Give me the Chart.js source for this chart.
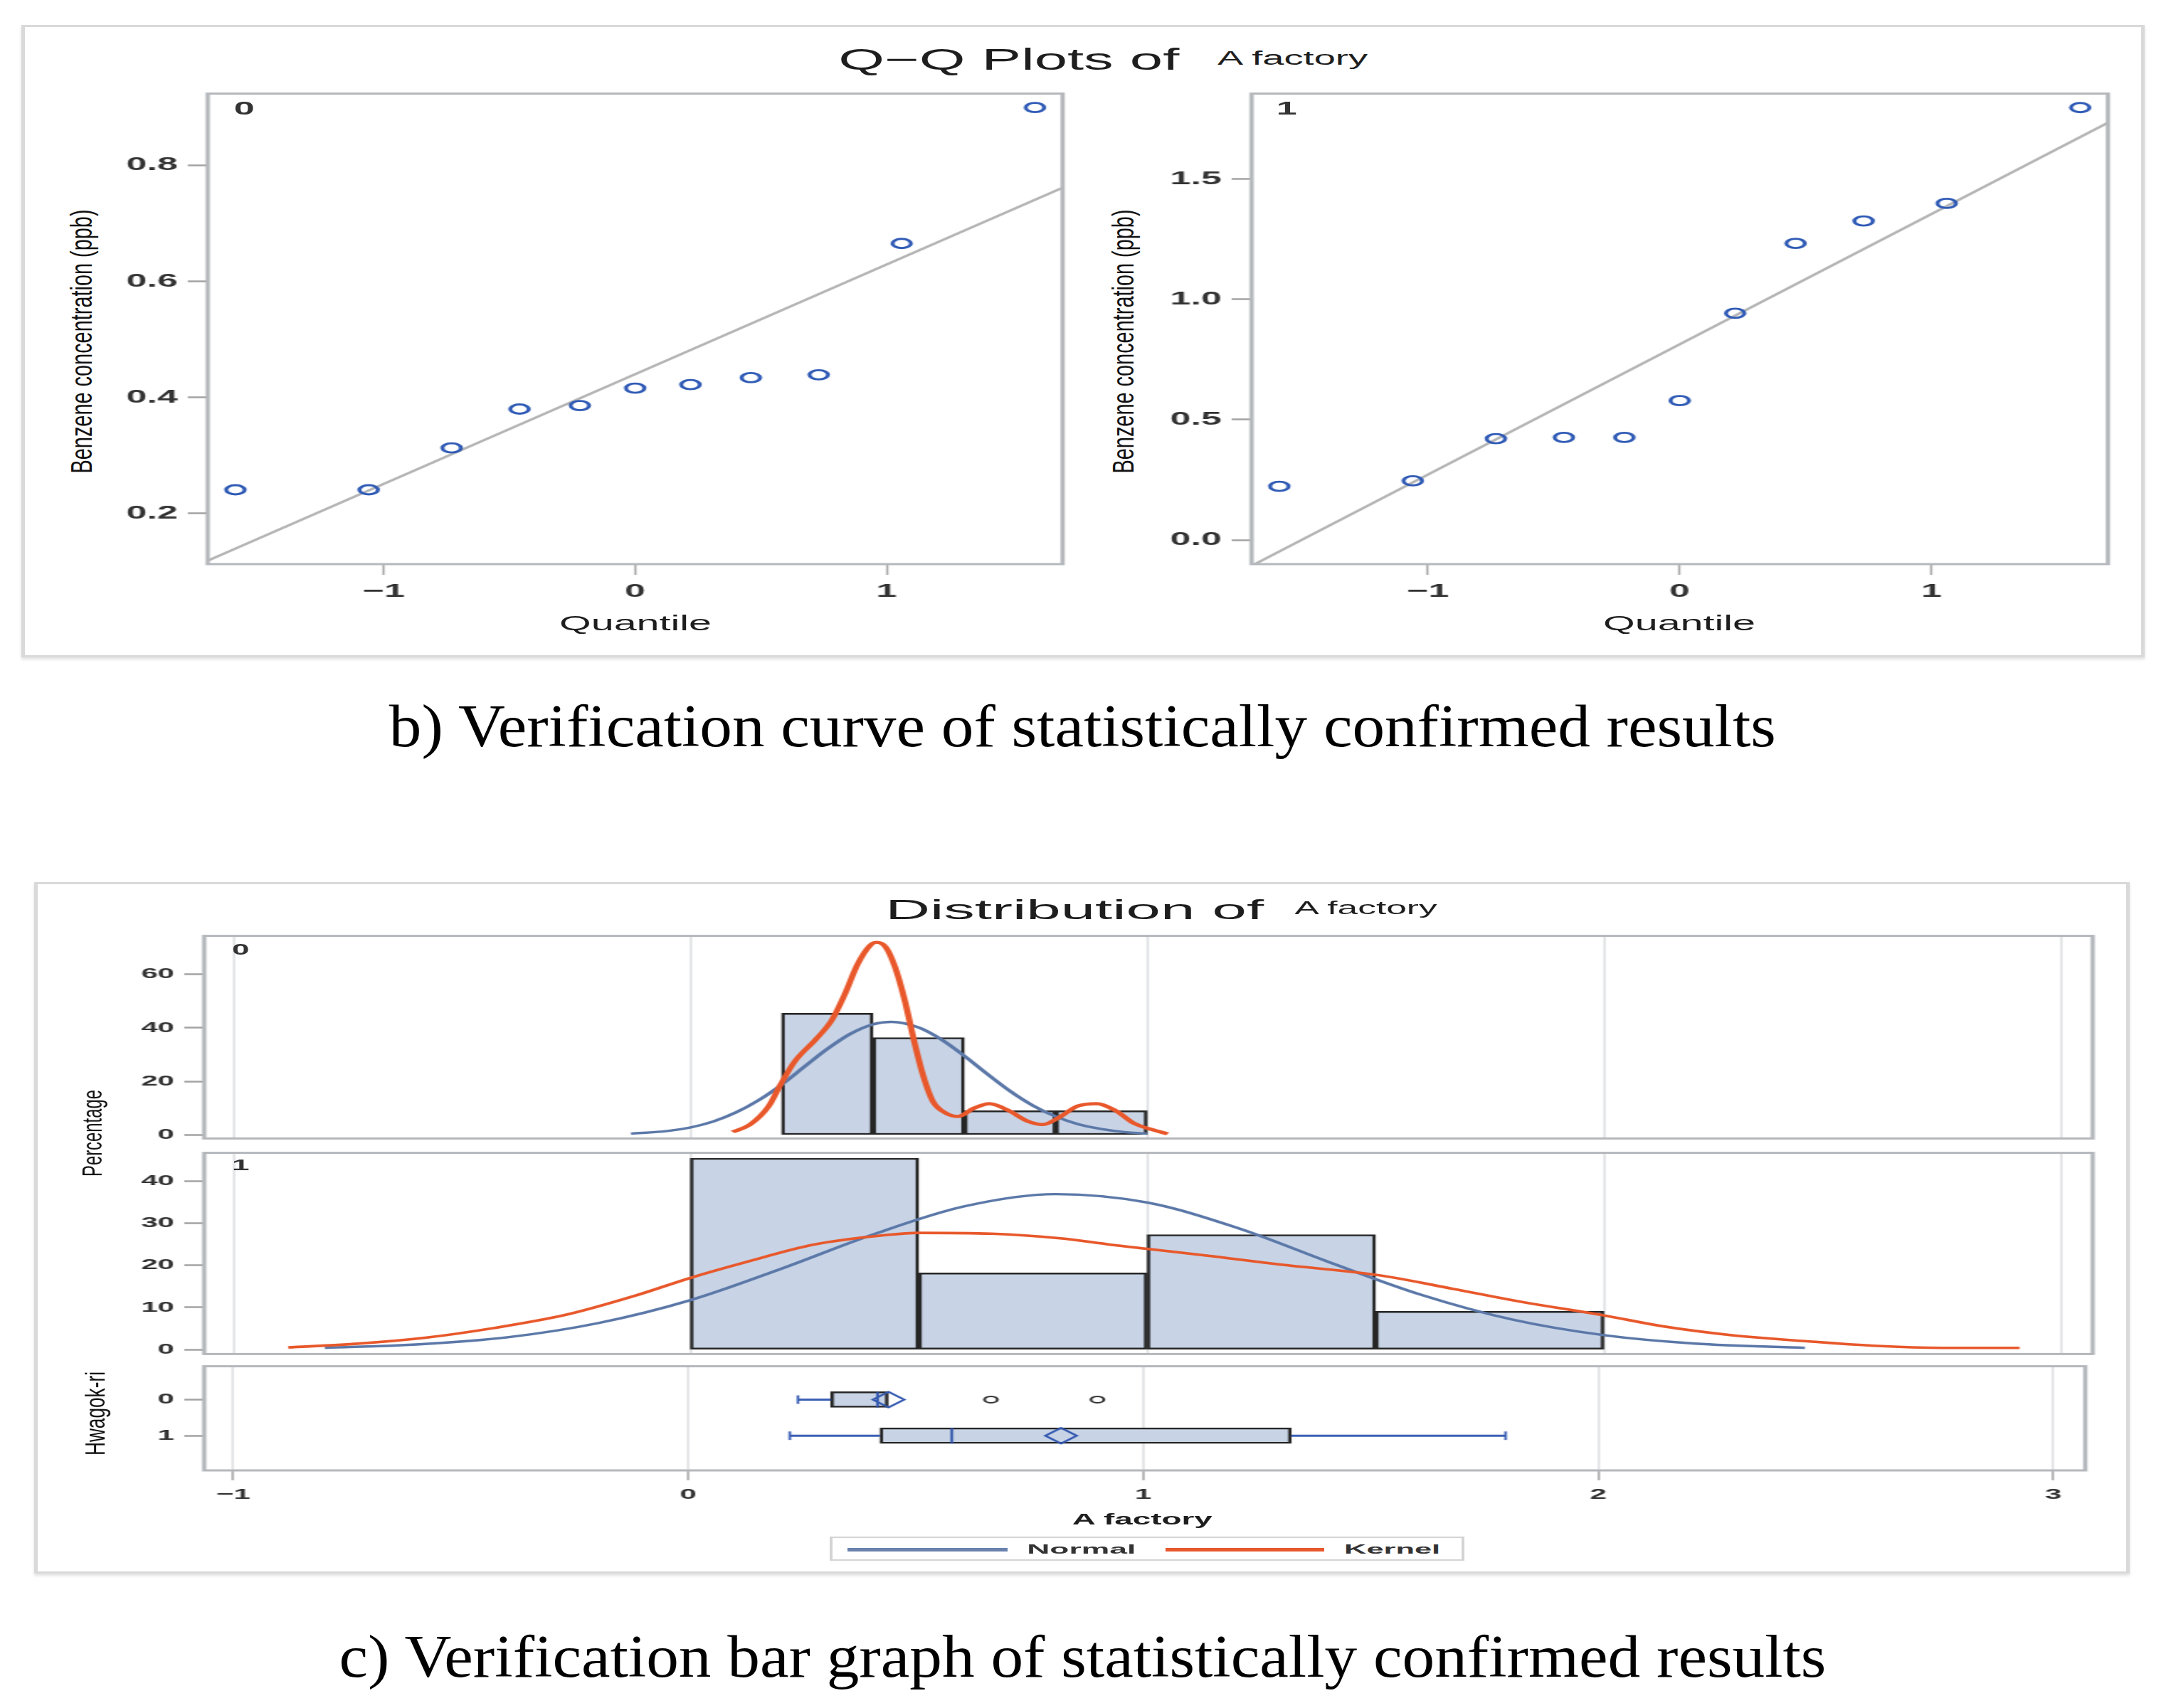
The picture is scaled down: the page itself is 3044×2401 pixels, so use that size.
<!DOCTYPE html>
<html>
<head>
<meta charset="utf-8">
<title>Q-Q plots and distribution of A factory</title>
<script src="https://cdn.jsdelivr.net/npm/chart.js@4.4.1/dist/chart.umd.min.js"></script>
<style>
  html, body { margin: 0; padding: 0; background: #fff; }
  body { position: relative; width: 3044px; height: 2401px; overflow: hidden;
         font-family: 'Liberation Sans', Arial, sans-serif; color: #222; }
  .frame { position: absolute; box-sizing: border-box; border: solid #d9d9d9;
           border-width: 3px 5px; box-shadow: 0 3px 4px rgba(0,0,0,0.12); }
  .t { position: absolute; white-space: nowrap; line-height: 1; }
  canvas { position: absolute; transform-origin: 0 0; }
  .legend { position: absolute; box-sizing: border-box; border: solid #d4d4d4; border-width: 2px 4px; }
  .key { position: absolute; height: 5px; }
</style>
</head>
<body>
<div class="frame" style="left:30px;top:35px;width:2984px;height:889px"></div>
<div class="frame" style="left:48px;top:1240px;width:2945px;height:972px"></div>
<div class="legend" style="left:1166px;top:2160px;width:892px;height:34px"></div>
<div class="key" style="left:1191px;top:2176px;width:225px;background:#6a82ad"></div>
<div class="key" style="left:1638px;top:2176px;width:223px;background:#e8582b"></div>

<script>
// ---- Q-Q plot data (normal quantiles vs benzene concentration, ppb)
const qqQuantiles = [-1.59, -1.06, -0.73, -0.46, -0.22, 0, 0.22, 0.46, 0.73, 1.06, 1.59];
const qqGroup0 = [0.241, 0.241, 0.313, 0.380, 0.386, 0.416, 0.422, 0.434, 0.439, 0.665, 0.899];
const qqGroup1 = [0.223, 0.246, 0.421, 0.426, 0.426, 0.579, 0.942, 1.232, 1.325, 1.398, 1.796];
const qqLineX = [-1.70, 1.70];
const qqLine0 = [0.119, 0.761];
const qqLine1 = [-0.107, 1.733];
const qqTicksX = [-1, 0, 1];
const qqTicksY0 = [0.2, 0.4, 0.6, 0.8];
const qqTicksY1 = [0, 0.5, 1.0, 1.5];

// ---- histogram data (percent per bin, bins given by centre)
const bins0 = [0.3, 0.5, 0.7, 0.9];
const pct0 = [45.45, 36.36, 9.09, 9.09];
const bins1 = [0.25, 0.75, 1.25, 1.75];
const pct1 = [45.45, 18.18, 27.27, 9.09];

const normal0X = [-0.13, -0.05, 0, 0.05, 0.1, 0.15, 0.2, 0.25, 0.3, 0.35, 0.4, 0.44, 0.5, 0.55, 0.6, 0.65, 0.7, 0.75, 0.8, 0.85, 0.9, 0.95, 1.0];
const normal0Y = [0.5, 1.5, 2.8, 5.0, 8.4, 13.0, 18.8, 25.5, 32.1, 37.7, 41.3, 42.2, 40.1, 35.6, 29.5, 22.8, 16.4, 11.0, 6.9, 4.0, 2.2, 1.1, 0.5];
const kernel0X = [0.093, 0.131, 0.172, 0.197, 0.228, 0.276, 0.31, 0.338, 0.366, 0.393, 0.407, 0.428, 0.448, 0.469, 0.49, 0.51, 0.531, 0.559, 0.586, 0.621, 0.655, 0.697, 0.738, 0.772, 0.807, 0.848, 0.89, 0.931, 0.972, 1.007, 1.045];
const kernel0Y = [1.1, 3.9, 10.8, 18.6, 27.3, 35.9, 42.9, 52.4, 63.6, 70.6, 71.9, 70.1, 62.8, 50.6, 35.1, 22.1, 12.6, 8.2, 6.9, 10.0, 11.7, 9.1, 5.2, 3.9, 6.5, 10.8, 11.7, 9.1, 4.3, 2.2, 0.4];

const normal1X = [-0.8, -0.6, -0.4, -0.2, 0, 0.2, 0.4, 0.6, 0.8, 1.0, 1.2, 1.4, 1.6, 1.8, 2.0, 2.2, 2.44];
const normal1Y = [0.4, 1.2, 2.9, 6.3, 11.7, 19.2, 27.3, 34.0, 36.9, 34.9, 28.8, 20.7, 13.0, 7.1, 3.4, 1.4, 0.4];
const kernel1X = [-0.88, -0.74, -0.58, -0.43, -0.27, -0.12, 0, 0.12, 0.27, 0.43, 0.5, 0.66, 0.81, 0.92, 1.0, 1.13, 1.29, 1.51, 1.67, 1.82, 2.0, 2.13, 2.28, 2.44, 2.59, 2.74, 2.91];
const kernel1Y = [0.5, 1.3, 2.8, 5.1, 8.3, 12.8, 17.0, 20.7, 24.9, 27.2, 27.7, 27.5, 26.4, 24.9, 23.9, 22.3, 20.2, 17.6, 14.4, 11.3, 8.1, 5.5, 3.4, 2.0, 0.9, 0.4, 0.4];

const distTicksX = [-1, 0, 1, 2, 3];
const pctTicks0 = [0, 20, 40, 60];
const pctTicks1 = [0, 10, 20, 30, 40];

// ---- box plot data (Hwagok-ri 0 / 1)
const boxRows = [0, 1];
const boxQ1 = [0.313, 0.421];
const boxMedian = [0.416, 0.579];
const boxQ3 = [0.439, 1.325];
const boxMean = [0.440, 0.819];
const whiskerLow = [0.241, 0.223];
const whiskerHigh = [0.439, 1.796];
const outliers = [[0.665, 0.899], []];

// ---- look
const S = 2;   // the whole graphic is stretched 2x horizontally
const barFill = '#c8d4e6';
const barEdge = '#262626';
const normalColor = '#5b78a8';
const kernelColor = '#e8582b';
const boxBlue = '#3a5fb4';
const tickColor = '#a3a3a3';
const family = "'Liberation Sans', Arial, sans-serif";
const minus = v => String(v).replace('-', '\u2212');

const framePlugin = {
  id: 'frame',
  afterDraw(chart) {
    const { ctx, chartArea: a } = chart;
    ctx.save();
    ctx.strokeStyle = '#b4b8bc';
    ctx.lineWidth = 3;
    ctx.strokeRect(a.left, a.top, a.right - a.left, a.bottom - a.top);
    ctx.restore();
  }
};

function fixedTicks(vals) {
  return s => { s.ticks = vals.map(value => ({ value })); };
}

function plot(area, opt, datasets, scales) {
  const aw = Math.round((area.r - area.l) / S);
  const ah = area.b - area.t;
  const w = opt.yw + aw + 8;
  const h = opt.pt + ah + opt.xh + opt.pb;
  const cv = document.createElement('canvas');
  cv.width = w;
  cv.height = h;
  cv.style.left = (area.l - opt.yw * S) + 'px';
  cv.style.top = (area.t - opt.pt) + 'px';
  cv.style.width = w + 'px';
  cv.style.height = h + 'px';
  cv.style.transform = `scaleX(${S})`;
  document.body.appendChild(cv);
  scales.x.afterFit = s => { s.height = opt.xh; };
  scales.y.afterFit = s => { s.width = opt.yw; };
  return new Chart(cv, {
    type: 'scatter',
    data: { datasets },
    options: {
      responsive: false,
      animation: false,
      devicePixelRatio: 1,
      layout: { padding: { left: 0, right: 8, top: opt.pt, bottom: opt.pb } },
      plugins: { legend: { display: false }, tooltip: { enabled: false } },
      scales
    },
    plugins: [framePlugin]
  });
}

function yAxis(min, max, ticks, size, fmt, extra) {
  return Object.assign({
    type: 'linear', min, max, offset: false,
    afterBuildTicks: fixedTicks(ticks),
    ticks: { font: { family, size, weight: 'bold' }, color: '#333', padding: 7, callback: fmt, autoSkip: false },
    grid: { drawOnChartArea: false, drawTicks: true, tickLength: 14, tickColor, tickWidth: 2.5, offset: false },
    border: { display: false }
  }, extra || {});
}

const xy = (xs, ys) => xs.map((x, i) => ({ x, y: ys[i] }));

// ---------- Q-Q plots
function qqChart(area, values, line, yMin, yMax, yTicks) {
  plot(area, { yw: 71, pt: 16, pb: 0, xh: 70 }, [
    { type: 'line', data: xy(qqLineX, line), borderColor: '#b5b5b5', borderWidth: 2.8, pointRadius: 0, order: 2 },
    { type: 'scatter', data: xy(qqQuantiles, values), pointStyle: 'circle', pointRadius: 6.5,
      pointBorderWidth: 2.8, pointBorderColor: '#2f5ab5', pointBackgroundColor: 'rgba(255,255,255,0)', order: 1 }
  ], {
    x: {
      type: 'linear', min: -1.70, max: 1.70, offset: false,
      afterBuildTicks: fixedTicks(qqTicksX),
      ticks: { font: { family, size: 26, weight: 'bold' }, color: '#333', padding: 8, maxRotation: 0, autoSkip: false, callback: v => minus(v) },
      grid: { drawOnChartArea: false, drawTicks: true, tickLength: 15, tickColor, tickWidth: 1.5, offset: false },
      border: { display: false }
    },
    y: yAxis(yMin, yMax, yTicks, 26, v => v.toFixed(1))
  });
}
qqChart({ l: 292, t: 125, r: 1496, b: 793 }, qqGroup0, qqLine0, 0.113, 0.923, qqTicksY0);
qqChart({ l: 1759, t: 125, r: 2964, b: 793 }, qqGroup1, qqLine1, -0.10, 1.854, qqTicksY1);

// ---------- histogram panels
function distX(showTicks) {
  return {
    type: 'linear', min: -1.064, max: 3.07, offset: false,
    afterBuildTicks: fixedTicks(distTicksX),
    ticks: { display: showTicks, font: { family, size: 21, weight: 'bold' }, color: '#333', padding: 8, maxRotation: 0, autoSkip: false, callback: v => minus(v) },
    grid: { drawOnChartArea: true, color: '#e4e6e8', lineWidth: 2, drawTicks: showTicks, tickLength: 14, tickColor, tickWidth: 1.5, offset: false },
    border: { display: false }
  };
}

function histChart(area, bins, pct, nX, nY, kX, kY, kWidth, yMin, yMax, yTicks) {
  plot(area, { yw: 70, pt: 16, pb: 16, xh: 0 }, [
    { type: 'bar', data: xy(bins, pct), backgroundColor: barFill, borderColor: barEdge, borderWidth: 2.5,
      borderSkipped: false, barPercentage: 1, categoryPercentage: 1, grouped: false, order: 10 },
    { type: 'line', data: xy(nX, nY), borderColor: normalColor, borderWidth: 3.4, pointRadius: 0,
      cubicInterpolationMode: 'monotone', order: 2 },
    { type: 'line', data: xy(kX, kY), borderColor: kernelColor, borderWidth: kWidth, pointRadius: 0,
      cubicInterpolationMode: 'monotone', order: 1 }
  ], {
    x: distX(false),
    y: yAxis(yMin, yMax, yTicks, 21, v => String(v), { beginAtZero: false })
  });
}
histChart({ l: 287, t: 1312, r: 2941, b: 1604 }, bins0, pct0, normal0X, normal0Y, kernel0X, kernel0Y, 4.4, -1.3, 74.3, pctTicks0);
histChart({ l: 287, t: 1617, r: 2941, b: 1907 }, bins1, pct1, normal1X, normal1Y, kernel1X, kernel1Y, 3.6, -1.07, 46.7, pctTicks1);

// ---------- box plots
const boxSets = [
  { type: 'bar', indexAxis: 'y', data: boxRows.map((r, i) => ({ y: r, x: [boxQ1[i], boxQ3[i]] })),
    backgroundColor: barFill, borderColor: barEdge, borderWidth: 2.5, borderSkipped: false,
    barThickness: 22, grouped: false, order: 10 }
];
const caps = [];
boxRows.forEach((r, i) => {
  boxSets.push({ type: 'line', data: [{ x: whiskerLow[i], y: r }, { x: boxQ1[i], y: r }],
    borderColor: boxBlue, borderWidth: 3, pointRadius: 0, order: 5 });
  caps.push({ x: whiskerLow[i], y: r });
  if (whiskerHigh[i] > boxQ3[i]) {
    boxSets.push({ type: 'line', data: [{ x: boxQ3[i], y: r }, { x: whiskerHigh[i], y: r }],
      borderColor: boxBlue, borderWidth: 3, pointRadius: 0, order: 5 });
    caps.push({ x: whiskerHigh[i], y: r });
  }
});
boxSets.push(
  { type: 'scatter', data: caps, pointStyle: 'line', pointRotation: 90, pointRadius: 6,
    pointBorderWidth: 1.8, pointBorderColor: boxBlue, order: 4 },
  { type: 'scatter', data: boxRows.map((r, i) => ({ x: boxMedian[i], y: r })), pointStyle: 'line', pointRotation: 90,
    pointRadius: 11, pointBorderWidth: 1.8, pointBorderColor: '#2b4fa8', order: 3 },
  { type: 'scatter', data: boxRows.map((r, i) => ({ x: boxMean[i], y: r })), pointStyle: 'rectRot',
    pointRadius: 11, pointBorderWidth: 2.2, pointBorderColor: '#3358b0', pointBackgroundColor: 'rgba(0,0,0,0)', order: 2 },
  { type: 'scatter', data: boxRows.flatMap((r, i) => outliers[i].map(x => ({ x, y: r }))), pointStyle: 'circle',
    pointRadius: 4.5, pointBorderWidth: 2, pointBorderColor: '#333', pointBackgroundColor: 'rgba(255,255,255,0)', order: 1 }
);
plot({ l: 287, t: 1917, r: 2941, b: 2067 }, { yw: 70, pt: 16, pb: 0, xh: 70 }, boxSets, {
  x: distX(true),
  y: yAxis(-0.923, 1.962, boxRows, 21, v => String(v), { reverse: true })
});

// ---------- text
function label(str, cx, cy, size, width, opts = {}) {
  const el = document.createElement('div');
  el.className = 't';
  el.textContent = str;
  el.style.fontSize = size + 'px';
  if (opts.family) el.style.fontFamily = opts.family;
  if (opts.weight) el.style.fontWeight = opts.weight;
  el.style.color = opts.color || '#1e1e1e';
  document.body.appendChild(el);
  const box = el.getBoundingClientRect();
  el.style.left = (cx - box.width / 2) + 'px';
  el.style.top = (cy - box.height / 2) + 'px';
  const k = opts.sx || (width ? width / box.width : 1);
  el.style.transform = opts.rotate
    ? `scaleX(${opts.thick || 1}) rotate(-90deg) scaleX(${k})`
    : `scaleX(${k})`;
}

const serif = "'Liberation Serif', 'Times New Roman', serif";

label('Q\u2212Q Plots of', 1418, 84, 42, 479);
label('A factory', 1817, 82, 27, 211);
label('0', 343, 152, 26, 0, { sx: 2, weight: 'bold', color: '#333' });
label('1', 1808, 152, 26, 0, { sx: 2, weight: 'bold', color: '#333' });
label('Benzene concentration (ppb)', 115, 480, 26, 371, { rotate: true, thick: 1.6, color: '#111' });
label('Benzene concentration (ppb)', 1579, 480, 26, 371, { rotate: true, thick: 1.6, color: '#111' });
label('Quantile', 893, 876, 29, 214);
label('Quantile', 2360, 876, 29, 214);

label('b) Verification curve of statistically confirmed results', 1521, 1021, 84, 1949, { family: serif, color: '#000' });

label('Distribution of', 1510, 1279, 38, 532);
label('A factory', 1920, 1276, 26, 200);
label('0', 338, 1335, 22, 0, { sx: 2, weight: 'bold', color: '#333' });
label('1', 338, 1638, 22, 0, { sx: 2, weight: 'bold', color: '#333' });
label('Percentage', 130, 1593, 22, 122, { rotate: true, thick: 1.8, color: '#111' });
label('Hwagok-ri', 135, 1987, 22, 118, { rotate: true, thick: 1.8, color: '#111' });
label('A factory', 1605, 2136, 22, 197, { weight: 'bold' });
label('Normal', 1520, 2177, 19, 153, { weight: 'bold', color: '#333' });
label('Kernel', 1957, 2177, 19, 135, { weight: 'bold', color: '#333' });

label('c) Verification bar graph of statistically confirmed results', 1521, 2329, 84, 2090, { family: serif, color: '#000' });
</script>
</body>
</html>
